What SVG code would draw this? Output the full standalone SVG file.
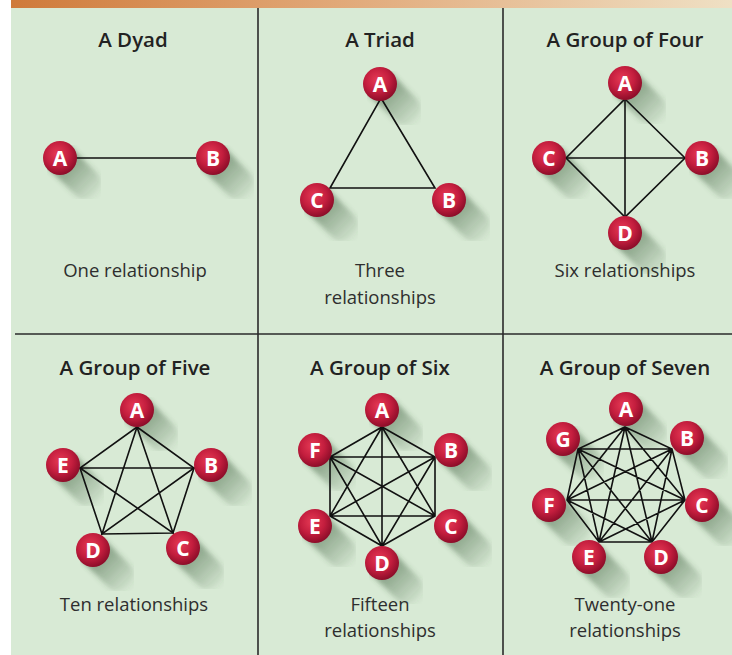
<svg xmlns="http://www.w3.org/2000/svg" xmlns:xlink="http://www.w3.org/1999/xlink" width="732" height="655" viewBox="0 0 732 655">
  <style>
    .title { font-family: "Open Sans", "Liberation Sans", sans-serif; font-weight: 600; font-size: 20.5px; fill: #222; text-anchor: middle; }
    .caption { font-family: "Open Sans", "Liberation Sans", sans-serif; font-weight: 400; font-size: 18.5px; fill: #2e2e2e; text-anchor: middle; }
    .letter { font-family: "Open Sans", "Liberation Sans", sans-serif; font-weight: 700; font-size: 21px; fill: #fff; text-anchor: middle; }
    .divider { stroke: #2a2a2a; stroke-width: 1.6; fill: none; }
    .edge { stroke: #111; stroke-width: 1.6; fill: none; stroke-linecap: round; }
  </style>
  <defs>
    <linearGradient id="band" x1="0" y1="0" x2="1" y2="0">
      <stop offset="0" stop-color="#cf7a3a"/>
      <stop offset="0.45" stop-color="#e1a878"/>
      <stop offset="1" stop-color="#efe0c4"/>
    </linearGradient>
    <radialGradient id="ballFill" cx="0.42" cy="0.38" r="0.64">
      <stop offset="0" stop-color="#e63a55"/>
      <stop offset="0.55" stop-color="#c41e3e"/>
      <stop offset="1" stop-color="#8a0c28"/>
    </radialGradient>
    <linearGradient id="shadowFade" gradientUnits="userSpaceOnUse" x1="0" y1="0" x2="40" y2="40">
      <stop offset="0" stop-color="#3a5a3a" stop-opacity="0.6"/>
      <stop offset="1" stop-color="#3a5a3a" stop-opacity="0"/>
    </linearGradient>
    <filter id="soft" x="-60%" y="-60%" width="220%" height="220%">
      <feGaussianBlur stdDeviation="2.5"/>
    </filter>
    <g id="shadow">
      <line x1="2" y1="2" x2="26" y2="26" stroke="url(#shadowFade)" stroke-width="31" stroke-linecap="round" filter="url(#soft)"/>
    </g>
    <circle id="ball" r="17" fill="url(#ballFill)"/>
  </defs>

  <!-- page -->
  <rect x="0" y="0" width="732" height="655" fill="#ffffff"/>
  <rect x="11" y="0" width="721" height="655" fill="#d8ead5"/>
  <rect x="11" y="0" width="721" height="8" fill="url(#band)"/>

  <!-- panel dividers -->
  <g id="dividers">
    <line class="divider" x1="258" y1="8" x2="258" y2="655"/>
    <line class="divider" x1="503" y1="8" x2="503" y2="655"/>
    <line class="divider" x1="15" y1="334" x2="732" y2="334" stroke="#111"/>
  </g>

  <!-- titles and captions -->
  <g id="labels">
    <text class="title" x="133" y="47">A Dyad</text>
    <text class="title" x="380" y="47">A Triad</text>
    <text class="title" x="625" y="47">A Group of Four</text>
    <text class="title" x="135" y="375">A Group of Five</text>
    <text class="title" x="380" y="375">A Group of Six</text>
    <text class="title" x="625" y="375">A Group of Seven</text>

    <text class="caption" x="135" y="277">One relationship</text>
    <text class="caption" x="380" y="277">Three</text>
    <text class="caption" x="380" y="304">relationships</text>
    <text class="caption" x="625" y="277">Six relationships</text>
    <text class="caption" x="134" y="611">Ten relationships</text>
    <text class="caption" x="380" y="611">Fifteen</text>
    <text class="caption" x="380" y="637">relationships</text>
    <text class="caption" x="625" y="611">Twenty-one</text>
    <text class="caption" x="625" y="637">relationships</text>
  </g>

  <!-- cast shadows of the nodes -->
  <g id="shadows">
    <use href="#shadow" x="60" y="158"/><use href="#shadow" x="213" y="158"/>
    <use href="#shadow" x="380" y="84"/><use href="#shadow" x="317" y="200"/><use href="#shadow" x="449" y="200"/>
    <use href="#shadow" x="625" y="83"/><use href="#shadow" x="549" y="158"/><use href="#shadow" x="702" y="158"/><use href="#shadow" x="625" y="233"/>
    <use href="#shadow" x="137" y="410"/><use href="#shadow" x="63" y="465"/><use href="#shadow" x="211" y="465"/><use href="#shadow" x="93" y="550"/><use href="#shadow" x="183" y="548"/>
    <use href="#shadow" x="382" y="410"/><use href="#shadow" x="315" y="450"/><use href="#shadow" x="451" y="450"/><use href="#shadow" x="315" y="526"/><use href="#shadow" x="451" y="526"/><use href="#shadow" x="382" y="563"/>
    <use href="#shadow" x="626" y="409"/><use href="#shadow" x="687" y="438"/><use href="#shadow" x="702" y="505"/><use href="#shadow" x="661" y="557"/><use href="#shadow" x="589" y="557"/><use href="#shadow" x="549" y="505"/><use href="#shadow" x="563" y="439"/>
  </g>

  <!-- connectors -->
  <g id="connectors">
    <!-- dyad -->
    <line class="edge" x1="76" y1="158" x2="197" y2="158"/>
    <!-- triad -->
    <polygon class="edge" points="381,98 435,188 330,188"/>
    <!-- four: A(625,99) B(685,158) C(566,158) D(625,217) -->
    <polygon class="edge" points="625,99 685,158 625,217 566,158"/>
    <line class="edge" x1="625" y1="99" x2="625" y2="217"/>
    <line class="edge" x1="566" y1="158" x2="685" y2="158"/>
    <!-- five: A(137,427) B(194,468) C(173,533) D(102,534) E(80,468) -->
    <polygon class="edge" points="137,427 194,468 173,533 102,534 80,468"/>
    <polygon class="edge" points="137,427 173,533 80,468 194,468 102,534"/>
    <!-- six: A(382,427) B(435,457) C(435,516) D(382,546) E(330,516) F(330,457) -->
    <path class="edge" d="M382,427 L435,457 L435,516 L382,546 L330,516 L330,457 Z
      M382,427 L435,516 M382,427 L382,546 M382,427 L330,516
      M435,457 L382,546 M435,457 L330,516 M435,457 L330,457
      M435,516 L330,516 M435,516 L330,457
      M382,546 L330,457"/>
    <!-- seven: A(625,427) B(672,449) C(685,500) D(652,542) E(599,542) F(567,500) G(578,449) -->
    <path class="edge" d="M625,427 L672,449 L685,500 L652,542 L599,542 L567,500 L578,449 Z
      M625,427 L685,500 M625,427 L652,542 M625,427 L599,542 M625,427 L567,500
      M672,449 L652,542 M672,449 L599,542 M672,449 L567,500 M672,449 L578,449
      M685,500 L599,542 M685,500 L567,500 M685,500 L578,449
      M652,542 L567,500 M652,542 L578,449
      M599,542 L578,449"/>
  </g>

  <!-- nodes -->
  <g id="dyad-a"><use href="#ball" x="60" y="158"/><text class="letter" x="60" y="165.5">A</text></g>
  <g id="dyad-b"><use href="#ball" x="213" y="158"/><text class="letter" x="213" y="165.5">B</text></g>

  <g id="triad-a"><use href="#ball" x="380" y="84"/><text class="letter" x="380" y="91.5">A</text></g>
  <g id="triad-b"><use href="#ball" x="449" y="200"/><text class="letter" x="449" y="207.5">B</text></g>
  <g id="triad-c"><use href="#ball" x="317" y="200"/><text class="letter" x="317" y="207.5">C</text></g>

  <g id="four-a"><use href="#ball" x="625" y="83"/><text class="letter" x="625" y="90.5">A</text></g>
  <g id="four-b"><use href="#ball" x="702" y="158"/><text class="letter" x="702" y="165.5">B</text></g>
  <g id="four-c"><use href="#ball" x="549" y="158"/><text class="letter" x="549" y="165.5">C</text></g>
  <g id="four-d"><use href="#ball" x="625" y="233"/><text class="letter" x="625" y="240.5">D</text></g>

  <g id="five-a"><use href="#ball" x="137" y="410"/><text class="letter" x="137" y="417.5">A</text></g>
  <g id="five-b"><use href="#ball" x="211" y="465"/><text class="letter" x="211" y="472.5">B</text></g>
  <g id="five-c"><use href="#ball" x="183" y="548"/><text class="letter" x="183" y="555.5">C</text></g>
  <g id="five-d"><use href="#ball" x="93" y="550"/><text class="letter" x="93" y="557.5">D</text></g>
  <g id="five-e"><use href="#ball" x="63" y="465"/><text class="letter" x="63" y="472.5">E</text></g>

  <g id="six-a"><use href="#ball" x="382" y="410"/><text class="letter" x="382" y="417.5">A</text></g>
  <g id="six-b"><use href="#ball" x="451" y="450"/><text class="letter" x="451" y="457.5">B</text></g>
  <g id="six-c"><use href="#ball" x="451" y="526"/><text class="letter" x="451" y="533.5">C</text></g>
  <g id="six-d"><use href="#ball" x="382" y="563"/><text class="letter" x="382" y="570.5">D</text></g>
  <g id="six-e"><use href="#ball" x="315" y="526"/><text class="letter" x="315" y="533.5">E</text></g>
  <g id="six-f"><use href="#ball" x="315" y="450"/><text class="letter" x="315" y="457.5">F</text></g>

  <g id="seven-a"><use href="#ball" x="626" y="409"/><text class="letter" x="626" y="416.5">A</text></g>
  <g id="seven-b"><use href="#ball" x="687" y="438"/><text class="letter" x="687" y="445.5">B</text></g>
  <g id="seven-c"><use href="#ball" x="702" y="505"/><text class="letter" x="702" y="512.5">C</text></g>
  <g id="seven-d"><use href="#ball" x="661" y="557"/><text class="letter" x="661" y="564.5">D</text></g>
  <g id="seven-e"><use href="#ball" x="589" y="557"/><text class="letter" x="589" y="564.5">E</text></g>
  <g id="seven-f"><use href="#ball" x="549" y="505"/><text class="letter" x="549" y="512.5">F</text></g>
  <g id="seven-g"><use href="#ball" x="563" y="439"/><text class="letter" x="563" y="446.5">G</text></g>
</svg>
